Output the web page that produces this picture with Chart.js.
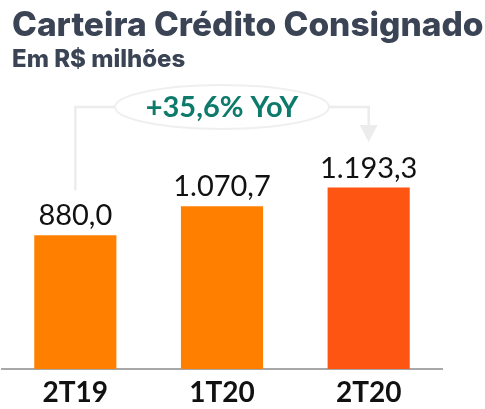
<!DOCTYPE html>
<html>
<head>
<meta charset="utf-8">
<script src="https://cdn.jsdelivr.net/npm/chart.js@4"></script>
<style>
  html, body { margin: 0; padding: 0; background: #fff; }
  #wrap { width: 485px; height: 409px; position: relative; }
</style>
</head>
<body>
<div id="wrap"><canvas id="chart"></canvas></div>
<script>
// Dados do gráfico
const periodos = ["2T19", "1T20", "2T20"];
const valores = [880.0, 1070.7, 1193.3];
const coresBarras = ["#ff8000", "#ff8000", "#ff5513"];
const titulo = "Carteira Crédito Consignado";
const subtitulo = "Em R$ milhões";
const textoYoY = "+35,6% YoY";

// formata 1070.7 -> "1.070,7"
function formatBR(v) {
    const [inteiro, dec] = v.toFixed(1).split(".");
    return inteiro.replace(/\B(?=(\d{3})+(?!\d))/g, ".") + "," + dec;
}

// Título e subtítulo no canto superior esquerdo
const tituloPlugin = {
    id: "titulo",
    beforeDraw(chart) {
        const ctx = chart.ctx;
        ctx.save();
        ctx.fillStyle = "#3a4454";
        ctx.textAlign = "left";
        ctx.textBaseline = "alphabetic";
        ctx.font = "800 33.5px Inter";
        ctx.fillText(titulo, 12, 36);
        ctx.font = "800 24px Inter";
        ctx.fillText(subtitulo, 12, 67);
        ctx.restore();
    }
};

// Rótulos de valor acima das barras + colchete YoY
const rotulosPlugin = {
    id: "rotulos",
    afterDatasetsDraw(chart) {
        const ctx = chart.ctx;
        const meta = chart.getDatasetMeta(0);
        ctx.save();
        ctx.fillStyle = "#111";
        ctx.font = "29px Lato";
        ctx.textAlign = "center";
        ctx.textBaseline = "alphabetic";
        meta.data.forEach((bar, i) => {
            ctx.fillText(formatBR(valores[i]), bar.x, bar.y - 10);
        });

        // colchete do primeiro ao último período
        const x0 = meta.data[0].x;
        const x1 = meta.data[meta.data.length - 1].x;
        const topo = 107;
        const cx = (x0 + x1) / 2;
        const rx = 107, ry = 22;
        ctx.strokeStyle = "#ececec";
        ctx.lineWidth = 2.5;
        ctx.beginPath();
        ctx.moveTo(x0, meta.data[0].y - 45);
        ctx.lineTo(x0, topo);
        ctx.lineTo(cx - rx, topo);
        ctx.moveTo(cx + rx, topo);
        ctx.lineTo(x1, topo);
        ctx.lineTo(x1, 126);
        ctx.stroke();
        ctx.fillStyle = "#ececec";
        ctx.beginPath();
        ctx.moveTo(x1 - 9, 125);
        ctx.lineTo(x1 + 9, 125);
        ctx.lineTo(x1, 142);
        ctx.closePath();
        ctx.fill();

        ctx.lineWidth = 2;
        ctx.strokeStyle = "#efefef";
        ctx.beginPath();
        ctx.ellipse(cx, topo, rx, ry, 0, 0, Math.PI * 2);
        ctx.stroke();

        ctx.fillStyle = "#0d7a6c";
        ctx.font = "bold 29px Lato";
        ctx.textBaseline = "middle";
        ctx.fillText(textoYoY, cx, topo + 1);
        ctx.restore();
    }
};

const ctx = document.getElementById("chart").getContext("2d");
new Chart(ctx, {
    type: "bar",
    data: {
        labels: periodos,
        datasets: [{
            data: valores,
            backgroundColor: coresBarras,
            borderWidth: 0,
            barPercentage: 0.56,
            categoryPercentage: 1.0
        }]
    },
    options: {
        responsive: true,
        maintainAspectRatio: false,
        animation: false,
        layout: { padding: { top: 141, left: 2, right: 43, bottom: -7 } },
        plugins: {
            legend: { display: false },
            tooltip: { enabled: false }
        },
        scales: {
            x: {
                grid: { display: false, drawTicks: false },
                border: { display: true, color: "#a8a8a8", width: 2 },
                ticks: {
                    color: "#111",
                    font: { family: "Lato", size: 28, weight: "bold", lineHeight: 0.68 },
                    padding: 14
                }
            },
            y: {
                display: false,
                min: 0,
                max: 1500
            }
        }
    },
    plugins: [tituloPlugin, rotulosPlugin]
});
</script>
</body>
</html>
